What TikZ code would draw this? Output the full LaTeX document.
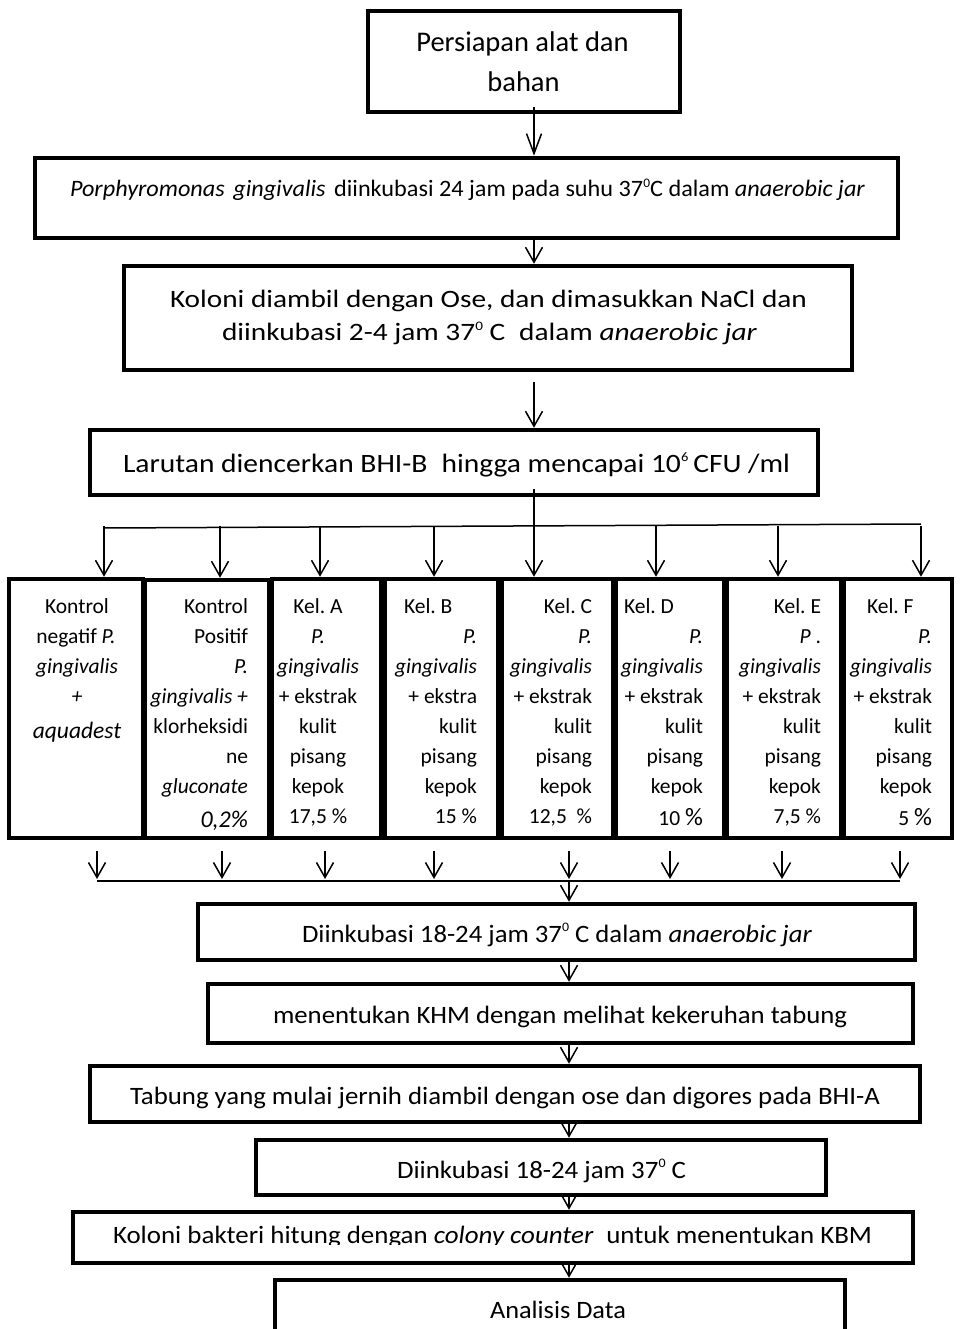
\documentclass[tikz,border=0pt]{standalone}
\usepackage{fontspec}
\setmainfont{Carlito}
\usepackage{graphicx}
\usetikzlibrary{arrows.meta}
\frenchspacing
\newcommand{\fitw}[3]{\resizebox{#1pt}{\height}{\fontsize{#2}{#2}\selectfont #3}}
\newcommand{\ksz}{\fontsize{21.5}{21.5}\selectfont}
\newcommand{\supz}[1]{\raisebox{0.85ex}{\fontsize{13}{13}\selectfont #1}}
\begin{document}
\begin{tikzpicture}[x=1pt,y=-1pt,
  box/.style={draw=black,line width=4.5pt,fill=none,inner sep=0pt,rectangle},
  txt/.style={inner sep=0pt,outer sep=0pt,font=\ksz},
  ln/.style={line width=1.5pt},
  conn/.style={line width=1.5pt,-{Straight Barb[length=15pt,width=17pt]}}]
\useasboundingbox (0,0) rectangle (960,1329);
\clip (0,0) rectangle (960,1329);
\fill[white] (0,0) rectangle (960,1329);
% main boxes
\node[box,minimum width=312pt,minimum height=101pt] (b1) at (524,61.5) {};
\node[box,minimum width=863pt,minimum height=80pt] (b2) at (466.5,198) {};
\node[box,minimum width=728pt,minimum height=104pt] (b3) at (488,318) {};
\node[box,minimum width=728pt,minimum height=65pt] (b4) at (454,462.5) {};
\node[box,minimum width=134pt,minimum height=259pt] (k1) at (76,708.5) {};
\node[box,minimum width=124pt,minimum height=258pt] (k2) at (207,709) {};
\node[box,minimum width=109pt,minimum height=259pt] (k3) at (326.5,708.5) {};
\node[box,minimum width=113pt,minimum height=259pt] (k4) at (441.5,708.5) {};
\node[box,minimum width=111pt,minimum height=259pt] (k5) at (557.5,708.5) {};
\node[box,minimum width=108pt,minimum height=259pt] (k6) at (670,708.5) {};
\node[box,minimum width=114pt,minimum height=259pt] (k7) at (784,708.5) {};
\node[box,minimum width=108pt,minimum height=259pt] (k8) at (898,708.5) {};
\node[box,minimum width=717pt,minimum height=56pt] (b5) at (556.5,932) {};
\node[box,minimum width=705pt,minimum height=59pt] (b6) at (560.5,1013.5) {};
\node[box,minimum width=830pt,minimum height=56pt] (b7) at (505,1094) {};
\node[box,minimum width=570pt,minimum height=55pt] (b8) at (541,1167.5) {};
\node[box,minimum width=840pt,minimum height=51pt] (b9) at (493,1237.5) {};
\node[box,minimum width=570pt,minimum height=65pt] (b10) at (560,1312.5) {};
% main texts
\node[txt,anchor=base] (t1a) at (522.5,52) {\fontsize{28.5}{28.5}\selectfont Persiapan alat dan};
\node[txt,anchor=base] (t1b) at (523.5,92) {\fontsize{28.5}{28.5}\selectfont bahan};
\node[txt,anchor=base west] (t2) at (70,197) {\fitw{795}{23.5}{\textit{Porphyromonas}\hspace{0.35em}\textit{gingivalis}\hspace{0.35em}diinkubasi 24 jam pada suhu 37\supz{0}C dalam \textit{anaerobic jar}}};
\node[txt,anchor=base west] (t3a) at (170,307) {\fitw{637}{25}{Koloni diambil dengan Ose, dan dimasukkan NaCl dan}};
\node[txt,anchor=base west] (t3b) at (222,341) {\fitw{535}{25}{diinkubasi 2-4 jam 37\supz{0} C\hspace{0.25em} dalam \textit{anaerobic jar}}};
\node[txt,anchor=base west] (t4) at (123,472) {\fitw{667}{26.5}{Larutan diencerkan BHI-B\hspace{0.25em} hingga mencapai 10\supz{6}\,CFU /ml}};
\node[txt,anchor=base west] (t5) at (302,942) {\fitw{510}{25}{Diinkubasi 18-24 jam 37\supz{0} C dalam \textit{anaerobic jar}}};
\node[txt,anchor=base west] (t6) at (273,1023) {\fitw{574}{25}{menentukan KHM dengan melihat kekeruhan tabung}};
\node[txt,anchor=base west] (t7) at (130,1104) {\fitw{750}{25}{Tabung yang mulai jernih diambil dengan ose dan digores pada BHI-A}};
\node[txt,anchor=base west] (t8) at (397,1178) {\fitw{289}{25}{Diinkubasi 18-24 jam 37\supz{0} C}};
\begin{scope}
\clip (0,1200) rectangle (960,1244);
\node[txt,anchor=base west] (t9) at (113,1243) {\fitw{759}{25}{Koloni bakteri hitung dengan \textit{colony counter}\hspace{0.25em} untuk menentukan KBM}};
\end{scope}
\node[txt,anchor=base west] (t10) at (490,1318) {\fitw{136}{25}{Analisis Data}};
% group box texts
\node[txt,anchor=base] (k1a) at (77,613) {Kontrol};
\node[txt,anchor=base] (k1b) at (76,643) {negatif \textit{P.}};
\node[txt,anchor=base] (k1c) at (77,673) {\textit{gingivalis}};
\node[txt,anchor=base] (k1d) at (77,703) {\textit{+}};
\node[txt,anchor=base] (k1e) at (77,738) {\fontsize{23.5}{23.5}\selectfont\textit{aquadest}};
\foreach \t [count=\i] in {Kontrol,Positif,\textit{P.},\textit{gingivalis +},klorheksidi,ne,\textit{gluconate}}
  \node[txt,anchor=base east] (k2l\i) at (248,583+30*\i) {\t};
\node[txt,anchor=base east] (k2l8) at (248,827) {\fontsize{24}{24}\selectfont\textit{0,2\%}};
\foreach \t [count=\i] in {Kel. A,\textit{P.},\textit{gingivalis},+ ekstrak,kulit,pisang,kepok,{17,5 \%}}
  \node[txt,anchor=base] (k3l\i) at (318,583+30*\i) {\t};
\node[txt,anchor=base west] (k4l1) at (404,613) {Kel. B};
\foreach \t [count=\i from 2] in {\textit{P.},\textit{gingivalis},+ ekstra,kulit,pisang,kepok,15 \%}
  \node[txt,anchor=base east] (k4l\i) at (477,583+30*\i) {\t};
\foreach \t [count=\i] in {Kel. C,\textit{P.},\textit{gingivalis},+ ekstrak,kulit,pisang,kepok,{12,5\ \ \%}}
  \node[txt,anchor=base east] (k5l\i) at (592,583+30*\i) {\t};
\node[txt,anchor=base west] (k6l1) at (624,613) {Kel. D};
\foreach \t [count=\i from 2] in {\textit{P.},\textit{gingivalis},+ ekstrak,kulit,pisang,kepok}
  \node[txt,anchor=base east] (k6l\i) at (703,583+30*\i) {\t};
\node[txt,anchor=base east] (k6l8) at (703,825) {10 {\fontsize{25}{25}\selectfont\%}};
\foreach \t [count=\i] in {Kel. E,\textit{P} .,\textit{gingivalis},+ ekstrak,kulit,pisang,kepok,{7,5 \%}}
  \node[txt,anchor=base east] (k7l\i) at (821,583+30*\i) {\t};
\node[txt,anchor=base west] (k8l1) at (867,613) {Kel. F};
\foreach \t [count=\i from 2] in {\textit{P.},\textit{gingivalis},+ ekstrak,kulit,pisang,kepok}
  \node[txt,anchor=base east] (k8l\i) at (932,583+30*\i) {\t};
\node[txt,anchor=base east] (k8l8) at (932,825) {5 {\fontsize{25}{25}\selectfont\%}};
% connectors
\coordinate (mx) at (534,0);
\coordinate (my) at (569,0);
\draw[conn,-{Straight Barb[length=20pt,width=15pt]}] ([yshift=7pt]b1.south -| mx) -- (b2.north -| mx);
\draw[conn] (b2.south -| mx) -- (b3.north -| mx);
\draw[conn,shorten <=10pt] (b3.south -| mx) -- (b4.north -| mx);
\coordinate (sp) at (534,526);
\draw[ln] ([yshift=8pt]b4.south -| mx) -- (sp);
\coordinate (hl) at (104,528);
\coordinate (hr) at (921,524);
\draw[ln] (hl) -- (hr);
\foreach \x [count=\i] in {104,220,320,434,534,656,778,921}
  \coordinate (a\i) at (\x,526);
\foreach \i in {1,...,8}
  \draw[conn] (a\i) -- (a\i |- k\i.north);
\foreach \x [count=\i] in {97,222,325,434,569,670,782,900}
  \coordinate (c\i) at (\x,881);
\foreach \i in {1,...,8}
  \draw[conn,shorten <=11pt,shorten >=2pt] (c\i |- k\i.south) -- (c\i);
\draw[ln] (c1) -- (c8);
\draw[conn] (c5) -- (b5.north -| my);
\draw[conn] (b5.south -| my) -- (b6.north -| my);
\draw[conn] (b6.south -| my) -- (b7.north -| my);
\draw[conn] (b7.south -| my) -- (b8.north -| my);
\draw[conn] (b8.south -| my) -- (b9.north -| my);
\draw[conn] (b9.south -| my) -- (b10.north -| my);
\end{tikzpicture}
\end{document}
